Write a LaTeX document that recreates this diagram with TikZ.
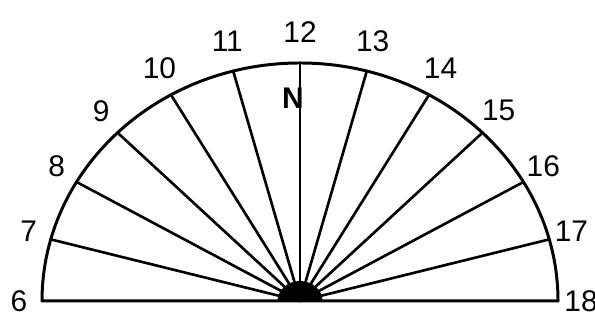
\documentclass[tikz,border=0pt]{standalone}
\usepackage{fontspec}
\setmainfont{Liberation Sans}
\usetikzlibrary{calc}
\tikzset{
  hourline/.style={line width=1.5pt},
  hourlabel/.style={font=\fontsize{17}{20}\selectfont, inner sep=0pt}
}
\begin{document}
\begin{tikzpicture}
  \useasboundingbox (0,0) rectangle (11.9,6.48);
  \coordinate (hub) at (6.0,0.46);
  % dial outline
  \draw[line width=1.7pt, line join=round] ($(hub)+(-5.16,0)$)
    arc[start angle=180, end angle=0, x radius=5.16, y radius=4.76] -- cycle;
  % hour lines
  \foreach \h in {7,...,17} {
    \pgfmathsetmacro{\ang}{180-(\h-6)*15}
    \coordinate (h\h) at ($(hub)+(\ang:5.16 and 4.76)$);
    \draw[hourline] (hub) -- (h\h);
  }
  % hour numbers
  \foreach \h in {6,...,18} {
    \pgfmathsetmacro{\ang}{180-(\h-6)*15}
    \node[hourlabel] (l\h) at ($(hub)+(\ang:5.62 and 5.38)$) {\h};
  }
  \fill ($(hub)+(-0.45,0)$) arc[start angle=180, end angle=0, x radius=0.45, y radius=0.4] -- cycle;
  \node[hourlabel, font=\fontsize{17}{20}\selectfont\bfseries] (north) at (5.86,4.52) {N};
\end{tikzpicture}
\end{document}
